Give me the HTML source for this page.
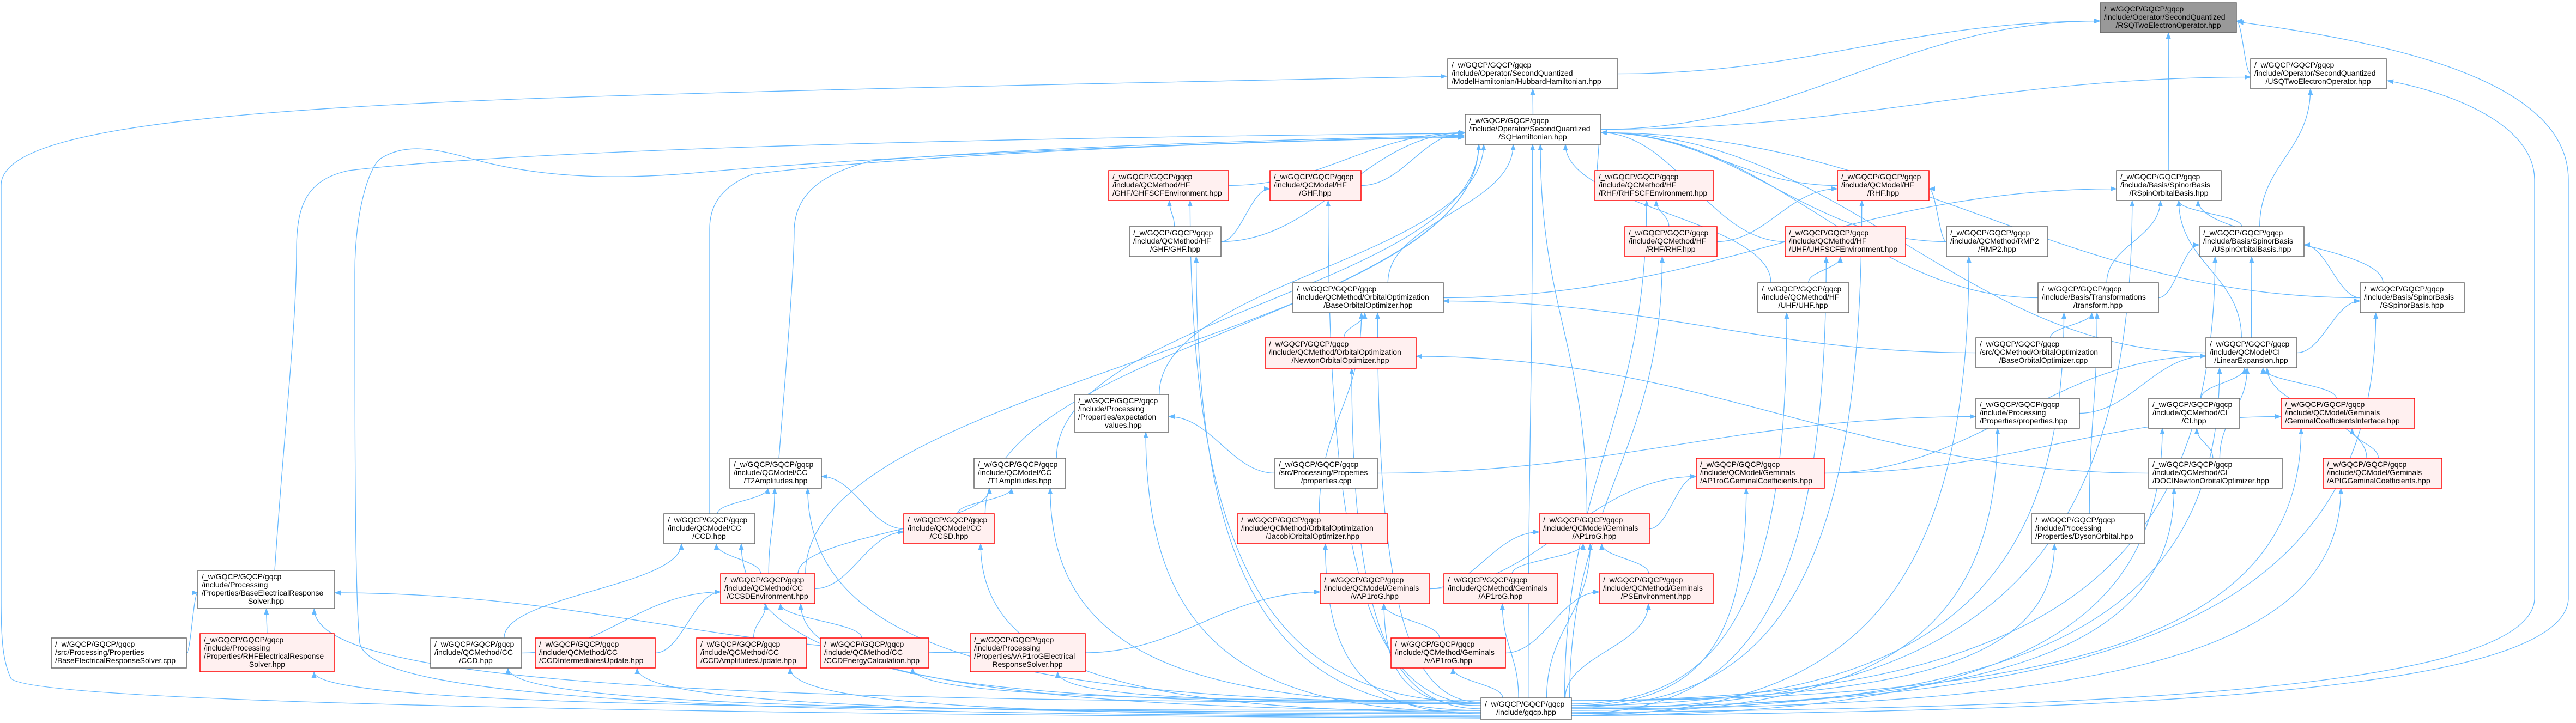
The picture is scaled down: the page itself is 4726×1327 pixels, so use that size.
<!DOCTYPE html>
<html><head><meta charset="utf-8"><style>
html,body{margin:0;padding:0;background:#fff;}
svg{display:block;}
text{font-family:"Liberation Sans",sans-serif;font-size:14px;fill:#000;}
.n{fill:#fff;stroke:#666;stroke-width:1.5;}
.r{fill:#fff0f0;stroke:#f00;stroke-width:1.5;}
.root{fill:#999;stroke:#666;stroke-width:1.5;}
#edges path{fill:none;stroke:#63b8ff;stroke-width:1.3;marker-end:url(#a);}
</style></head><body>
<svg width="4726" height="1327" viewBox="0 0 4726 1327" xmlns="http://www.w3.org/2000/svg">
<defs><marker id="a" markerWidth="12" markerHeight="10" refX="11" refY="4.5" orient="auto" markerUnits="userSpaceOnUse"><path d="M0,0 L12,4.5 L0,9z" fill="#63b8ff"/></marker></defs>
<g id="edges"></g>
<g id="nodes">
<rect class="root" x="3853" y="5" width="250" height="55"/><text x="3860" y="21">/_w/GQCP/GQCP/gqcp</text><text x="3860" y="36">/include/Operator/SecondQuantized</text><text x="3978" y="51" text-anchor="middle">/RSQTwoElectronOperator.hpp</text>

<rect class="n" x="2656" y="108" width="312" height="55"/><text x="2663" y="124">/_w/GQCP/GQCP/gqcp</text><text x="2663" y="139">/include/Operator/SecondQuantized</text><text x="2663" y="154">/ModelHamiltonian/HubbardHamiltonian.hpp</text>

<rect class="n" x="4129" y="108" width="249" height="55"/><text x="4136" y="124">/_w/GQCP/GQCP/gqcp</text><text x="4136" y="139">/include/Operator/SecondQuantized</text><text x="4253" y="154" text-anchor="middle">/USQTwoElectronOperator.hpp</text>

<rect class="n" x="2688" y="210" width="249" height="55"/><text x="2695" y="226">/_w/GQCP/GQCP/gqcp</text><text x="2695" y="241">/include/Operator/SecondQuantized</text><text x="2812" y="256" text-anchor="middle">/SQHamiltonian.hpp</text>

<rect class="r" x="2034" y="313" width="220" height="55"/><text x="2041" y="329">/_w/GQCP/GQCP/gqcp</text><text x="2041" y="344">/include/QCMethod/HF</text><text x="2041" y="359">/GHF/GHFSCFEnvironment.hpp</text>

<rect class="r" x="2330" y="313" width="167" height="55"/><text x="2337" y="329">/_w/GQCP/GQCP/gqcp</text><text x="2337" y="344">/include/QCModel/HF</text><text x="2413" y="359" text-anchor="middle">/GHF.hpp</text>

<rect class="r" x="2926" y="313" width="218" height="55"/><text x="2933" y="329">/_w/GQCP/GQCP/gqcp</text><text x="2933" y="344">/include/QCMethod/HF</text><text x="2933" y="359">/RHF/RHFSCFEnvironment.hpp</text>

<rect class="r" x="3371" y="313" width="168" height="55"/><text x="3378" y="329">/_w/GQCP/GQCP/gqcp</text><text x="3378" y="344">/include/QCModel/HF</text><text x="3455" y="359" text-anchor="middle">/RHF.hpp</text>

<rect class="n" x="3883" y="313" width="192" height="55"/><text x="3890" y="329">/_w/GQCP/GQCP/gqcp</text><text x="3890" y="344">/include/Basis/SpinorBasis</text><text x="3979" y="359" text-anchor="middle">/RSpinOrbitalBasis.hpp</text>

<rect class="n" x="2072" y="416" width="168" height="55"/><text x="2079" y="432">/_w/GQCP/GQCP/gqcp</text><text x="2079" y="447">/include/QCMethod/HF</text><text x="2156" y="462" text-anchor="middle">/GHF/GHF.hpp</text>

<rect class="r" x="2981" y="416" width="169" height="55"/><text x="2988" y="432">/_w/GQCP/GQCP/gqcp</text><text x="2988" y="447">/include/QCMethod/HF</text><text x="3065" y="462" text-anchor="middle">/RHF/RHF.hpp</text>

<rect class="r" x="3275" y="416" width="221" height="55"/><text x="3282" y="432">/_w/GQCP/GQCP/gqcp</text><text x="3282" y="447">/include/QCMethod/HF</text><text x="3282" y="462">/UHF/UHFSCFEnvironment.hpp</text>

<rect class="n" x="3571" y="416" width="186" height="55"/><text x="3578" y="432">/_w/GQCP/GQCP/gqcp</text><text x="3578" y="447">/include/QCMethod/RMP2</text><text x="3664" y="462" text-anchor="middle">/RMP2.hpp</text>

<rect class="n" x="4035" y="416" width="192" height="55"/><text x="4042" y="432">/_w/GQCP/GQCP/gqcp</text><text x="4042" y="447">/include/Basis/SpinorBasis</text><text x="4131" y="462" text-anchor="middle">/USpinOrbitalBasis.hpp</text>

<rect class="n" x="2372" y="519" width="276" height="55"/><text x="2379" y="535">/_w/GQCP/GQCP/gqcp</text><text x="2379" y="550">/include/QCMethod/OrbitalOptimization</text><text x="2510" y="565" text-anchor="middle">/BaseOrbitalOptimizer.hpp</text>

<rect class="n" x="3225" y="519" width="167" height="55"/><text x="3232" y="535">/_w/GQCP/GQCP/gqcp</text><text x="3232" y="550">/include/QCMethod/HF</text><text x="3308" y="565" text-anchor="middle">/UHF/UHF.hpp</text>

<rect class="n" x="3739" y="519" width="221" height="55"/><text x="3746" y="535">/_w/GQCP/GQCP/gqcp</text><text x="3746" y="550">/include/Basis/Transformations</text><text x="3849" y="565" text-anchor="middle">/transform.hpp</text>

<rect class="n" x="4330" y="519" width="191" height="55"/><text x="4337" y="535">/_w/GQCP/GQCP/gqcp</text><text x="4337" y="550">/include/Basis/SpinorBasis</text><text x="4425" y="565" text-anchor="middle">/GSpinorBasis.hpp</text>

<rect class="r" x="2321" y="620" width="277" height="56"/><text x="2328" y="636">/_w/GQCP/GQCP/gqcp</text><text x="2328" y="651">/include/QCMethod/OrbitalOptimization</text><text x="2459" y="666" text-anchor="middle">/NewtonOrbitalOptimizer.hpp</text>

<rect class="n" x="3625" y="620" width="249" height="55"/><text x="3632" y="636">/_w/GQCP/GQCP/gqcp</text><text x="3632" y="651">/src/QCMethod/OrbitalOptimization</text><text x="3749" y="666" text-anchor="middle">/BaseOrbitalOptimizer.cpp</text>

<rect class="n" x="4047" y="620" width="167" height="55"/><text x="4054" y="636">/_w/GQCP/GQCP/gqcp</text><text x="4054" y="651">/include/QCModel/CI</text><text x="4130" y="666" text-anchor="middle">/LinearExpansion.hpp</text>

<rect class="n" x="1971" y="724" width="173" height="69"/><text x="1978" y="740">/_w/GQCP/GQCP/gqcp</text><text x="1978" y="755">/include/Processing</text><text x="1978" y="770">/Properties/expectation</text><text x="2057" y="785" text-anchor="middle">_values.hpp</text>

<rect class="n" x="3625" y="731" width="190" height="55"/><text x="3632" y="747">/_w/GQCP/GQCP/gqcp</text><text x="3632" y="762">/include/Processing</text><text x="3632" y="777">/Properties/properties.hpp</text>

<rect class="n" x="3942" y="731" width="167" height="55"/><text x="3949" y="747">/_w/GQCP/GQCP/gqcp</text><text x="3949" y="762">/include/QCMethod/CI</text><text x="4025" y="777" text-anchor="middle">/CI.hpp</text>

<rect class="r" x="4185" y="731" width="245" height="55"/><text x="4192" y="747">/_w/GQCP/GQCP/gqcp</text><text x="4192" y="762">/include/QCModel/Geminals</text><text x="4192" y="777">/GeminalCoefficientsInterface.hpp</text>

<rect class="n" x="1339" y="841" width="168" height="55"/><text x="1346" y="857">/_w/GQCP/GQCP/gqcp</text><text x="1346" y="872">/include/QCModel/CC</text><text x="1423" y="887" text-anchor="middle">/T2Amplitudes.hpp</text>

<rect class="n" x="1787" y="841" width="168" height="55"/><text x="1794" y="857">/_w/GQCP/GQCP/gqcp</text><text x="1794" y="872">/include/QCModel/CC</text><text x="1871" y="887" text-anchor="middle">/T1Amplitudes.hpp</text>

<rect class="n" x="2339" y="841" width="188" height="55"/><text x="2346" y="857">/_w/GQCP/GQCP/gqcp</text><text x="2346" y="872">/src/Processing/Properties</text><text x="2433" y="887" text-anchor="middle">/properties.cpp</text>

<rect class="r" x="3112" y="841" width="235" height="55"/><text x="3119" y="857">/_w/GQCP/GQCP/gqcp</text><text x="3119" y="872">/include/QCModel/Geminals</text><text x="3119" y="887">/AP1roGGeminalCoefficients.hpp</text>

<rect class="n" x="3942" y="841" width="245" height="55"/><text x="3949" y="857">/_w/GQCP/GQCP/gqcp</text><text x="3949" y="872">/include/QCMethod/CI</text><text x="3949" y="887">/DOCINewtonOrbitalOptimizer.hpp</text>

<rect class="r" x="4262" y="841" width="218" height="55"/><text x="4269" y="857">/_w/GQCP/GQCP/gqcp</text><text x="4269" y="872">/include/QCModel/Geminals</text><text x="4269" y="887">/APIGGeminalCoefficients.hpp</text>

<rect class="n" x="1218" y="943" width="167" height="55"/><text x="1225" y="959">/_w/GQCP/GQCP/gqcp</text><text x="1225" y="974">/include/QCModel/CC</text><text x="1301" y="989" text-anchor="middle">/CCD.hpp</text>

<rect class="r" x="1658" y="943" width="166" height="55"/><text x="1665" y="959">/_w/GQCP/GQCP/gqcp</text><text x="1665" y="974">/include/QCModel/CC</text><text x="1741" y="989" text-anchor="middle">/CCSD.hpp</text>

<rect class="r" x="2270" y="943" width="276" height="55"/><text x="2277" y="959">/_w/GQCP/GQCP/gqcp</text><text x="2277" y="974">/include/QCMethod/OrbitalOptimization</text><text x="2408" y="989" text-anchor="middle">/JacobiOrbitalOptimizer.hpp</text>

<rect class="r" x="2824" y="943" width="202" height="55"/><text x="2831" y="959">/_w/GQCP/GQCP/gqcp</text><text x="2831" y="974">/include/QCModel/Geminals</text><text x="2925" y="989" text-anchor="middle">/AP1roG.hpp</text>

<rect class="n" x="3727" y="943" width="208" height="55"/><text x="3734" y="959">/_w/GQCP/GQCP/gqcp</text><text x="3734" y="974">/include/Processing</text><text x="3734" y="989">/Properties/DysonOrbital.hpp</text>

<rect class="n" x="363" y="1047" width="251" height="70"/><text x="370" y="1063">/_w/GQCP/GQCP/gqcp</text><text x="370" y="1078">/include/Processing</text><text x="370" y="1093">/Properties/BaseElectricalResponse</text><text x="488" y="1108" text-anchor="middle">Solver.hpp</text>

<rect class="r" x="1322" y="1053" width="173" height="55"/><text x="1329" y="1069">/_w/GQCP/GQCP/gqcp</text><text x="1329" y="1084">/include/QCMethod/CC</text><text x="1408" y="1099" text-anchor="middle">/CCSDEnvironment.hpp</text>

<rect class="r" x="2422" y="1053" width="201" height="55"/><text x="2429" y="1069">/_w/GQCP/GQCP/gqcp</text><text x="2429" y="1084">/include/QCModel/Geminals</text><text x="2522" y="1099" text-anchor="middle">/vAP1roG.hpp</text>

<rect class="r" x="2649" y="1053" width="209" height="55"/><text x="2656" y="1069">/_w/GQCP/GQCP/gqcp</text><text x="2656" y="1084">/include/QCMethod/Geminals</text><text x="2753" y="1099" text-anchor="middle">/AP1roG.hpp</text>

<rect class="r" x="2934" y="1053" width="209" height="55"/><text x="2941" y="1069">/_w/GQCP/GQCP/gqcp</text><text x="2941" y="1084">/include/QCMethod/Geminals</text><text x="3038" y="1099" text-anchor="middle">/PSEnvironment.hpp</text>

<rect class="n" x="94" y="1171" width="248" height="55"/><text x="101" y="1187">/_w/GQCP/GQCP/gqcp</text><text x="101" y="1202">/src/Processing/Properties</text><text x="101" y="1217">/BaseElectricalResponseSolver.cpp</text>

<rect class="r" x="367" y="1163" width="246" height="70"/><text x="374" y="1179">/_w/GQCP/GQCP/gqcp</text><text x="374" y="1194">/include/Processing</text><text x="374" y="1209">/Properties/RHFElectricalResponse</text><text x="490" y="1224" text-anchor="middle">Solver.hpp</text>

<rect class="n" x="790" y="1171" width="167" height="55"/><text x="797" y="1187">/_w/GQCP/GQCP/gqcp</text><text x="797" y="1202">/include/QCMethod/CC</text><text x="873" y="1217" text-anchor="middle">/CCD.hpp</text>

<rect class="r" x="982" y="1171" width="220" height="55"/><text x="989" y="1187">/_w/GQCP/GQCP/gqcp</text><text x="989" y="1202">/include/QCMethod/CC</text><text x="989" y="1217">/CCDIntermediatesUpdate.hpp</text>

<rect class="r" x="1278" y="1171" width="202" height="55"/><text x="1285" y="1187">/_w/GQCP/GQCP/gqcp</text><text x="1285" y="1202">/include/QCMethod/CC</text><text x="1285" y="1217">/CCDAmplitudesUpdate.hpp</text>

<rect class="r" x="1505" y="1171" width="199" height="55"/><text x="1512" y="1187">/_w/GQCP/GQCP/gqcp</text><text x="1512" y="1202">/include/QCMethod/CC</text><text x="1512" y="1217">/CCDEnergyCalculation.hpp</text>

<rect class="r" x="1780" y="1163" width="211" height="70"/><text x="1787" y="1179">/_w/GQCP/GQCP/gqcp</text><text x="1787" y="1194">/include/Processing</text><text x="1787" y="1209">/Properties/vAP1roGElectrical</text><text x="1885" y="1224" text-anchor="middle">ResponseSolver.hpp</text>

<rect class="r" x="2552" y="1171" width="210" height="55"/><text x="2559" y="1187">/_w/GQCP/GQCP/gqcp</text><text x="2559" y="1202">/include/QCMethod/Geminals</text><text x="2657" y="1217" text-anchor="middle">/vAP1roG.hpp</text>

<rect class="n" x="2717" y="1281" width="166" height="40"/><text x="2724" y="1297">/_w/GQCP/GQCP/gqcp</text><text x="2800" y="1312" text-anchor="middle">/include/gqcp.hpp</text>
</g>
</svg>
<script>
const N={RSQ:[3853,5,250,55],HUB:[2656,108,312,55],USQ:[4129,108,249,55],SQH:[2688,210,249,55],
GHFSCF:[2034,313,220,55],MGHF:[2330,313,167,55],RHFSCF:[2926,313,218,55],MRHF:[3371,313,168,55],RSOB:[3883,313,192,55],
GHF:[2072,416,168,55],RHF:[2981,416,169,55],UHFSCF:[3275,416,221,55],RMP2:[3571,416,186,55],USOB:[4035,416,192,55],
BOOH:[2372,519,276,55],UHF:[3225,519,167,55],TRANS:[3739,519,221,55],GSB:[4330,519,191,55],
NEWTON:[2321,620,277,56],BOOCPP:[3625,620,249,55],LINEXP:[4047,620,167,55],
EXPV:[1971,724,173,69],PROPH:[3625,731,190,55],CIH:[3942,731,167,55],GCI:[4185,731,245,55],
T2:[1339,841,168,55],T1:[1787,841,168,55],PROPCPP:[2339,841,188,55],AP1GC:[3112,841,235,55],DOCI:[3942,841,245,55],APIG:[4262,841,218,55],
MCCD:[1218,943,167,55],MCCSD:[1658,943,166,55],JACOBI:[2270,943,276,55],MAP1:[2824,943,202,55],DYSON:[3727,943,208,55],
BERSH:[363,1047,251,70],CCSDENV:[1322,1053,173,55],MVAP1:[2422,1053,201,55],METAP1:[2649,1053,209,55],PSENV:[2934,1053,209,55],
BERSCPP:[94,1171,248,55],RHFERS:[367,1163,246,70],CCDM:[790,1171,167,55],CCDIU:[982,1171,220,55],CCDAU:[1278,1171,202,55],CCDEC:[1505,1171,199,55],
VAPERS:[1780,1163,211,70],METVAP1:[2552,1171,210,55],GQCP:[2717,1281,166,40]};
const E=[['HUB','RSQ'],['SQH','HUB'],['SQH','RSQ'],['SQH','USQ'],['USQ','RSQ'],['RSOB','RSQ'],['USOB','USQ'],['USOB','RSOB'],
['GSB','RSOB'],['GSB','USOB'],['GSB','SQH'],['TRANS','RSOB'],['TRANS','USOB'],['TRANS','SQH'],['LINEXP','RSOB'],['LINEXP','USOB'],
['LINEXP','GSB'],['LINEXP','SQH'],['BOOH','SQH'],['BOOH','RSOB'],['BOOCPP','BOOH'],['BOOCPP','TRANS'],['NEWTON','BOOH'],['JACOBI','BOOH'],
['DOCI','NEWTON'],['DOCI','CIH'],['DOCI','LINEXP'],['GHFSCF','SQH'],['MGHF','SQH'],['GHF','GHFSCF'],['GHF','MGHF'],['GHF','SQH'],
['RHFSCF','SQH'],['MRHF','SQH'],['RHF','RHFSCF'],['RHF','MRHF'],['UHFSCF','SQH'],['UHF','UHFSCF'],['UHF','SQH'],['RMP2','MRHF'],['RMP2','SQH'],
['EXPV','SQH'],['PROPCPP','EXPV'],['PROPCPP','PROPH'],['PROPH','LINEXP'],['CIH','LINEXP'],['GCI','LINEXP'],['AP1GC','GCI'],['AP1GC','LINEXP'],
['APIG','GCI'],['APIG','LINEXP'],['DYSON','TRANS'],['T1','SQH'],['MCCD','T2'],['MCCSD','T1'],['MCCSD','T2'],['MCCSD','SQH'],
['CCSDENV','T1'],['CCSDENV','T2'],['CCSDENV','MCCD'],['CCSDENV','MCCSD'],['CCSDENV','SQH'],['BERSCPP','BERSH'],['RHFERS','BERSH'],
['VAPERS','BERSH'],['VAPERS','MVAP1'],['CCDM','MCCD'],['CCDM','CCSDENV'],['CCDIU','CCSDENV'],['CCDAU','CCSDENV'],['CCDEC','CCSDENV'],
['MAP1','SQH'],['MAP1','AP1GC'],['MVAP1','MAP1'],['MVAP1','AP1GC'],['METAP1','MAP1'],['PSENV','MAP1'],['METVAP1','MVAP1'],['METVAP1','PSENV']];
const G=['GHFSCF','MGHF','RHFSCF','MRHF','RSOB','GHF','RHF','UHFSCF','RMP2','USOB','BOOH','UHF','TRANS','GSB','NEWTON','LINEXP','EXPV','PROPH',
'CIH','GCI','T2','T1','AP1GC','DOCI','APIG','MCCD','MCCSD','JACOBI','MAP1','DYSON','BERSH','CCSDENV','MVAP1','METAP1','PSENV','RHFERS',
'CCDM','CCDIU','CCDAU','CCDEC','VAPERS','METVAP1','SQH'];
const g=document.getElementById('edges');
function add(d){const p=document.createElementNS('http://www.w3.org/2000/svg','path');p.setAttribute('d',d);g.appendChild(p);}
const cl=(v,m)=>Math.max(-m,Math.min(m,v));
for(const [s,t] of E){const a=N[s],b=N[t];const scx=a[0]+a[2]/2,tcx=b[0]+b[2]/2;const sy=a[1],ty=b[1]+b[3];
 let ex=tcx+cl((scx-tcx)*0.12,b[2]*0.4);let sx=scx+cl((tcx-scx)*0.12,a[2]*0.4);
 const dy=sy-ty,dx=ex-sx;
 if(Math.abs(dx)>2.5*Math.max(dy,1)){const right=tcx>scx;sx=right?a[0]+a[2]:a[0];const sY=a[1]+a[3]/2;ex=right?b[0]:b[0]+b[2];const eY=b[1]+b[3]/2+6;const d2=ex-sx;
  add(`M${sx},${sY} C${sx+d2*0.4},${sY} ${ex-d2*0.4},${eY} ${ex},${eY}`);}
 else{const k=Math.max(20,dy*0.45);add(`M${sx},${sy} C${sx},${sy-k} ${ex},${ty+k} ${ex},${ty}`);}
}
let i=0;
for(const t of G){const b=N[t];const tcx=b[0]+b[2]/2,ty=b[1]+b[3];i++;
 const ex=tcx+cl((2800-tcx)*0.06,b[2]*0.35);
 if(tcx>2600&&tcx<3150){const sx=2800+(tcx-2800)*0.3,sy=1281;const k=(sy-ty)*0.45;add(`M${sx},${sy} C${sx},${sy-k} ${ex},${ty+k} ${ex},${ty}`);}
 else{const left=tcx<2800;const sx=left?2717:2883;const sy=1286+(i%10)*3;
  add(`M${sx},${sy} C${sx+(ex-sx)*0.7},${sy} ${ex},${sy-(sy-ty)*0.25} ${ex},${ty}`);}
}
add('M2883,1314 C3700,1305 4700,1290 4712,1100 L4712,330 C4712,150 4400,80 4105,40');
add('M2883,1308 C3700,1300 4640,1280 4650,1100 L4650,330 C4650,230 4500,170 4380,148');
add('M2717,1318 C1500,1312 60,1295 20,1245 C6,1215 2,1180 2,1100 L2,340 C2,250 300,205 1000,180 C1600,160 2300,148 2654,140');
add('M504,1047 C520,800 544,600 544,460 C544,380 560,330 640,313 C1000,270 2000,250 2686,245');
add('M2717,1316 C1400,1310 680,1290 660,1180 C651,1100 651,800 651,500 C651,380 680,300 700,290 C740,265 790,270 860,290 C1000,330 1150,330 1300,315 C1700,280 2300,260 2686,250');
add('M1302,943 L1302,420 C1302,370 1330,340 1380,320 C1600,290 2200,260 2686,252');
add('M1429,841 C1440,700 1457,500 1457,420 C1460,360 1500,320 1600,295 C1900,270 2300,258 2686,248');
</script>
</body></html>
